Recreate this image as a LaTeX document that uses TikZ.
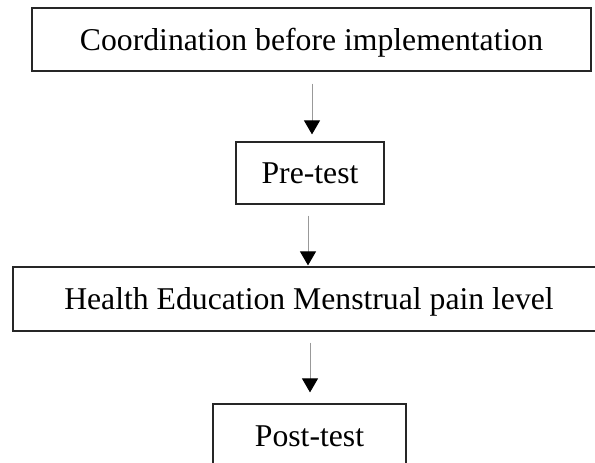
\documentclass[tikz,border=0pt]{standalone}
\usepackage{fontspec}
\setmainfont{Liberation Serif}
\usetikzlibrary{arrows.meta}
\tikzset{
  box/.style={draw=black!85, line width=1.2pt, rectangle, inner sep=0pt,
    font=\fontsize{31.7}{36}\selectfont, text height=21pt, text depth=0pt},
  arr/.style={draw=black!40, line width=1pt,
    -{Triangle[width=16pt,length=14pt,color=black,fill=black]}}
}
\begin{document}
\begin{tikzpicture}[x=1pt,y=1pt]
\useasboundingbox (0,0) rectangle (595,-463);
\node[box, minimum width=559pt, minimum height=63pt] (b1) at (311.5,-39.5) {Coordination before implementation};
\node[box, minimum width=148pt, minimum height=62pt] (b2) at (310,-173) {Pre-test\hspace{12pt}};
\node[box, minimum width=592pt, minimum height=64pt] (b3) at (309,-299) {Health Education Menstrual pain level};
\node[box, minimum width=193pt, minimum height=64pt] (b4) at (309.5,-436) {Post-test};
\draw[arr, shorten <=12pt, shorten >=7pt] ([xshift=0.5pt]b1.south) -- ([xshift=0.5pt]b1.south |- b2.north);
\draw[arr, shorten <=11pt, shorten >=1pt] ([xshift=-2pt]b2.south) -- ([xshift=-2pt]b2.south |- b3.north);
\draw[arr, shorten <=11pt, shorten >=11pt] ([xshift=1pt]b3.south) -- ([xshift=1pt]b3.south |- b4.north);
\end{tikzpicture}
\end{document}
